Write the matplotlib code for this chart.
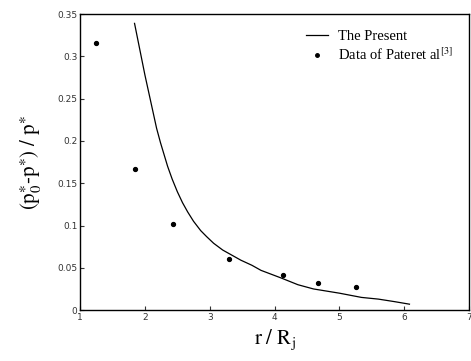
import numpy as np
import matplotlib
matplotlib.use("Agg")
import matplotlib.pyplot as plt
from matplotlib.ticker import FuncFormatter

plt.rcParams["mathtext.fontset"] = "stix"
plt.rcParams["font.family"] = "DejaVu Sans"

# modelo (curva contínua)
r_modelo = [1.84, 2.00, 2.18, 2.24, 2.35, 2.42, 2.50, 2.58, 2.66, 2.75, 2.86,
            2.95, 3.06, 3.20, 3.48, 3.65, 3.79, 4.10, 4.36, 4.60, 5.00, 5.34,
            5.60, 5.85, 6.08]
p_modelo = [0.339, 0.278, 0.215, 0.198, 0.170, 0.155, 0.140, 0.127, 0.116,
            0.105, 0.094, 0.087, 0.079, 0.071, 0.059, 0.053, 0.047, 0.038,
            0.030, 0.025, 0.020, 0.015, 0.013, 0.010, 0.007]

# dados experimentais
r_exp = [1.25, 1.84, 2.44, 3.30, 4.13, 4.67, 5.26]
p_exp = [0.316, 0.167, 0.102, 0.060, 0.042, 0.032, 0.027]

xticks = [1, 2, 3, 4, 5, 6, 7]
yticks = [0, 0.05, 0.1, 0.15, 0.2, 0.25, 0.3, 0.35]

fig = plt.figure(figsize=(4.71, 3.61), dpi=100)
ax = fig.add_axes([0.170, 0.141, 0.826, 0.820])

ax.plot(r_modelo, p_modelo, color="black", linewidth=0.9, label="The Present")
ax.plot(r_exp, p_exp, linestyle="none", marker="o", markersize=2.8,
        color="black", label=r"Data of Pateret al$^{[3]}$")

ax.set_xlim(1, 7)
ax.set_ylim(0, 0.35)
ax.set_xticks(xticks)
ax.set_yticks(yticks)
ax.yaxis.set_major_formatter(FuncFormatter(lambda v, _: f"{v:g}"))
ax.tick_params(direction="in", length=3, width=0.8, labelsize=6.5,
               colors="#333333", pad=2)
for s in ax.spines.values():
    s.set_linewidth(1.0)

ax.set_xlabel(r"$\mathrm{r\ /\ R_j}$", fontsize=15, labelpad=4)
ax.set_ylabel(r"$\mathrm{(p_0^{\ast}\text{-}p^{\ast})\ /\ p^{\ast}}$", fontsize=15, labelpad=10)

leg = ax.legend(loc="upper right", frameon=False, handlelength=1.5,
                prop={"family": "Liberation Serif", "size": 10.5},
                borderaxespad=0.7, labelspacing=0.2, handletextpad=0.7,
                markerscale=0.9)

plt.savefig("out.png", dpi=100)
